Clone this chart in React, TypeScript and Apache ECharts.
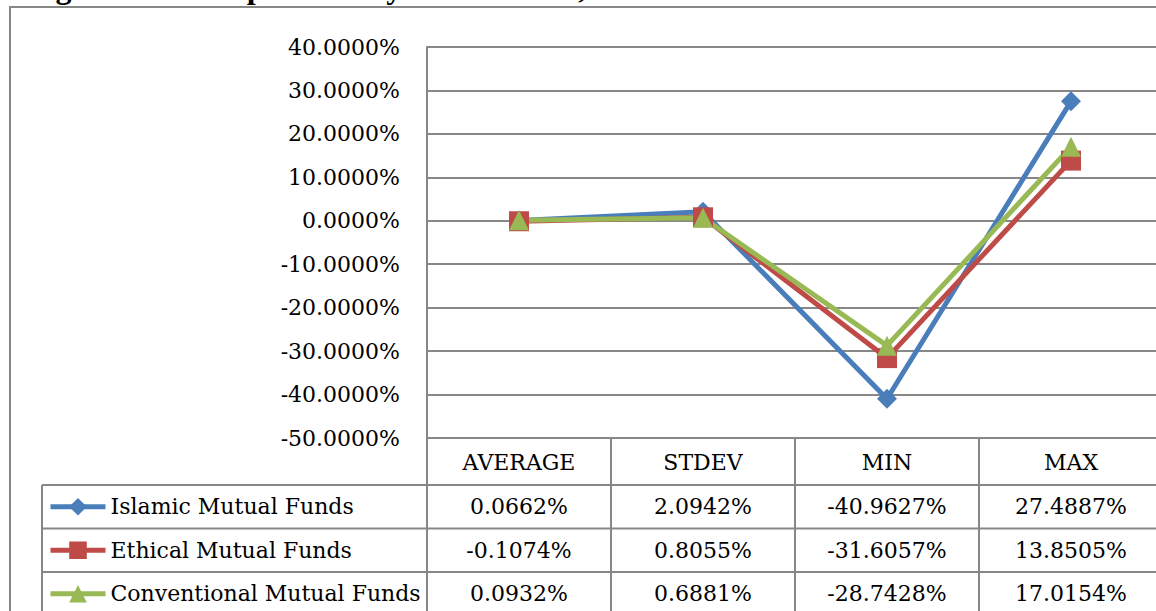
import React, { useEffect, useRef } from "react";
import * as echarts from "echarts";

// ---------- data ----------
const titleText =
  "Figure 3: Descriptive Analysis of Islamic, Ethical and Conventional Mutual Funds";
const categories = ["AVERAGE", "STDEV", "MIN", "MAX"];
const seriesNames = [
  "Islamic Mutual Funds",
  "Ethical Mutual Funds",
  "Conventional Mutual Funds",
];
const islamic = [0.0662, 2.0942, -40.9627, 27.4887];
const ethical = [-0.1074, 0.8055, -31.6057, 13.8505];
const conventional = [0.0932, 0.6881, -28.7428, 17.0154];
const yMin = -50;
const yMax = 40;
const yStep = 10;

// ---------- styles / layout ----------
const colors = ["#4A7EBB", "#BE4B48", "#98B954"];
const symbols = ["diamond", "rect", "triangle"];
const FONT = "'DejaVu Serif', serif";
const GRID = "#878787";
const G_LEFT = 427;
const G_TOP = 47;
const G_W = 736;
const G_H = 391;
const TABLE_LEFT = 42;
const HEADER_BOTTOM = 485;
const ROW_H = 43.5;
const CW = 1200;
const CH = 650;

const fmt = (v: number) => v.toFixed(4) + "%";

export default function App() {
  const ref = useRef<HTMLDivElement>(null);

  useEffect(() => {
    if (!ref.current) return;
    const chart = echarts.init(ref.current, null, { renderer: "svg" });
    const allValues = [islamic, ethical, conventional];
    const colW = G_W / categories.length;
    const rowCenters = seriesNames.map((_, i) => HEADER_BOTTOM + ROW_H * (i + 0.5));

    const graphics: any[] = [];
    // outer border
    graphics.push({
      type: "rect",
      shape: { x: 10, y: 7, width: CW, height: CH },
      style: { fill: "none", stroke: GRID, lineWidth: 2 },
      silent: true,
      z: 0,
    });
    // title (cut at top, as in the source)
    graphics.push({
      type: "text",
      x: 27,
      y: -13.5,
      style: {
        text: titleText,
        font: "bold 32px 'Liberation Serif', serif",
        fill: "#000",
        verticalAlign: "middle",
        align: "left",
      },
      silent: true,
    });
    // table horizontal lines
    for (let i = 0; i <= seriesNames.length; i++) {
      const y = HEADER_BOTTOM + ROW_H * i;
      graphics.push({
        type: "line",
        shape: { x1: TABLE_LEFT, y1: y, x2: CW, y2: y },
        style: { stroke: GRID, lineWidth: 2 },
        silent: true,
      });
    }
    // table left line
    graphics.push({
      type: "line",
      shape: { x1: TABLE_LEFT, y1: HEADER_BOTTOM, x2: TABLE_LEFT, y2: CH },
      style: { stroke: GRID, lineWidth: 2 },
      silent: true,
    });
    // table values
    allValues.forEach((vals, i) => {
      vals.forEach((v, j) => {
        graphics.push({
          type: "text",
          x: G_LEFT + colW * (j + 0.5),
          y: rowCenters[i],
          style: {
            text: fmt(v),
            font: `22px ${FONT}`,
            fill: "#000",
            align: "center",
            verticalAlign: "middle",
          },
          silent: true,
        });
      });
    });

    chart.setOption({
      animation: false,
      grid: { left: G_LEFT, top: G_TOP, width: G_W, height: G_H, containLabel: false },
      xAxis: {
        type: "category",
        data: categories,
        boundaryGap: true,
        axisLine: { onZero: false, lineStyle: { color: GRID, width: 2 } },
        axisTick: { show: true, length: 200, lineStyle: { color: GRID, width: 2 } },
        axisLabel: {
          margin: 24,
          verticalAlign: "middle",
          fontFamily: FONT,
          fontSize: 22,
          color: "#000",
        },
      },
      yAxis: {
        type: "value",
        min: yMin,
        max: yMax,
        interval: yStep,
        axisLine: { show: true, lineStyle: { color: GRID, width: 2 } },
        axisTick: { show: false },
        splitLine: { lineStyle: { color: GRID, width: 2 } },
        axisLabel: {
          formatter: (v: number) => fmt(v),
          margin: 27,
          fontFamily: FONT,
          fontSize: 22,
          color: "#000",
        },
      },
      legend: seriesNames.map((name, i) => ({
        data: [name],
        left: 48,
        top: rowCenters[i] - 11,
        padding: 0,
        itemWidth: 55,
        itemHeight: 22,
        selectedMode: false,
        lineStyle: { width: 5 },
        textStyle: { fontFamily: FONT, fontSize: 22, color: "#000" },
      })),
      series: [islamic, ethical, conventional].map((vals, i) => ({
        type: "line",
        name: seriesNames[i],
        data: vals,
        symbol: symbols[i],
        symbolSize: 20,
        showAllSymbol: true,
        lineStyle: { width: 5, color: colors[i] },
        itemStyle: { color: colors[i] },
        emphasis: { disabled: true },
      })),
      graphic: graphics,
    });

    return () => chart.dispose();
  }, []);

  return (
    <div
      style={{
        position: "absolute",
        left: 0,
        top: 0,
        width: 1156,
        height: 611,
        overflow: "hidden",
        background: "#fff",
      }}
    >
      <div ref={ref} style={{ width: CW, height: CH }} />
    </div>
  );
}
